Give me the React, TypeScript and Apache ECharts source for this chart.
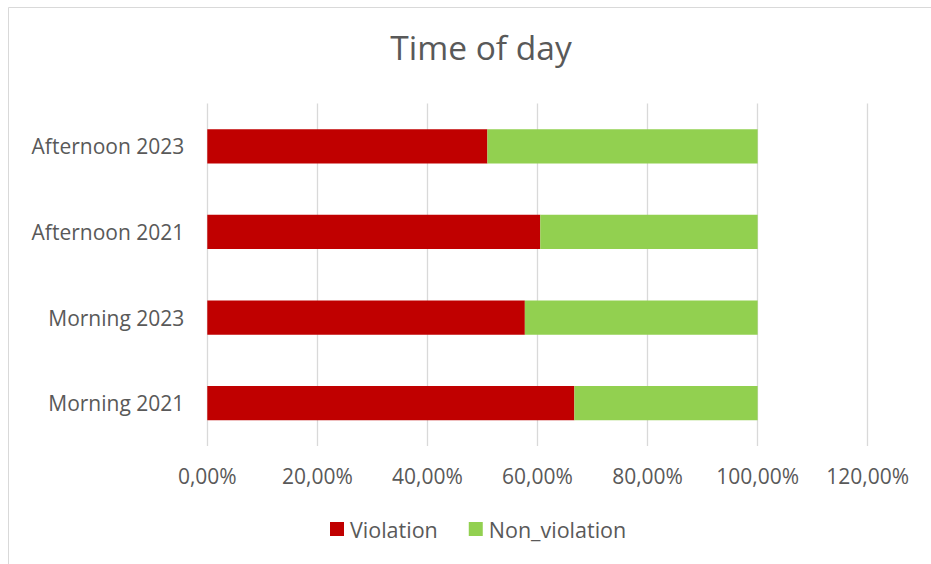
import React, { useEffect, useRef } from "react";
import * as echarts from "echarts";

const categories = ["Morning 2021", "Morning 2023", "Afternoon 2021", "Afternoon 2023"];
const violation = [66.7, 57.7, 60.5, 50.9];
const nonViolation = [33.3, 42.3, 39.5, 49.1];
const xTicks = { min: 0, max: 120, interval: 20 };

const FONT = "'Open Sans', 'Noto Sans', sans-serif";
const TEXT = "#595959";

export default function App() {
  const ref = useRef<HTMLDivElement>(null);
  useEffect(() => {
    if (!ref.current) return;
    const chart = echarts.init(ref.current, null, { renderer: "svg" });
    chart.setOption({
      animation: false,
      backgroundColor: "#ffffff",
      textStyle: { fontFamily: FONT, color: TEXT },
      title: {
        text: "Time of day",
        left: 476,
        textAlign: "center",
        top: 25,
        textStyle: { fontFamily: FONT, fontSize: 33.5, fontWeight: "normal", color: TEXT },
      },
      graphic: [
        {
          type: "rect",
          shape: { x: 8.5, y: 7.5, width: 950, height: 600 },
          style: { fill: "none", stroke: "#d9d9d9", lineWidth: 1 },
          silent: true,
          z: -1,
        },
      ],
      legend: {
        left: 330,
        top: 518,
        padding: 0,
        itemWidth: 14,
        itemHeight: 14,
        itemGap: 31,
        icon: "rect",
        textStyle: { fontFamily: FONT, fontSize: 21.5, color: TEXT, padding: [0, 0, 0, 1] },
        data: ["Violation", "Non_violation"],
      },
      grid: { left: 207.3, right: 63.3, top: 103.5, bottom: 118, containLabel: false },
      xAxis: {
        type: "value",
        min: xTicks.min,
        max: xTicks.max,
        interval: xTicks.interval,
        axisLine: { show: false },
        axisTick: { show: false },
        splitLine: { show: true, lineStyle: { color: "#d9d9d9", width: 1.3 } },
        axisLabel: {
          fontFamily: FONT,
          fontSize: 21,
          color: TEXT,
          margin: 19,
          formatter: (v: number) => v.toFixed(2).replace(".", ",") + "%",
        },
      },
      yAxis: {
        type: "category",
        data: categories,
        axisLine: { show: false },
        axisTick: { show: false },
        axisLabel: { fontFamily: FONT, fontSize: 21, color: TEXT, margin: 23 },
      },
      series: [
        {
          name: "Violation",
          type: "bar",
          stack: "total",
          data: violation,
          barCategoryGap: "60%",
          itemStyle: { color: "#C00000" },
        },
        {
          name: "Non_violation",
          type: "bar",
          stack: "total",
          data: nonViolation,
          barCategoryGap: "60%",
          itemStyle: { color: "#92D050" },
        },
      ],
    });
    return () => chart.dispose();
  }, []);
  return (
    <div
      ref={ref}
      style={{ position: "fixed", left: 0, top: 0, width: 931, height: 564, background: "#fff" }}
    />
  );
}
